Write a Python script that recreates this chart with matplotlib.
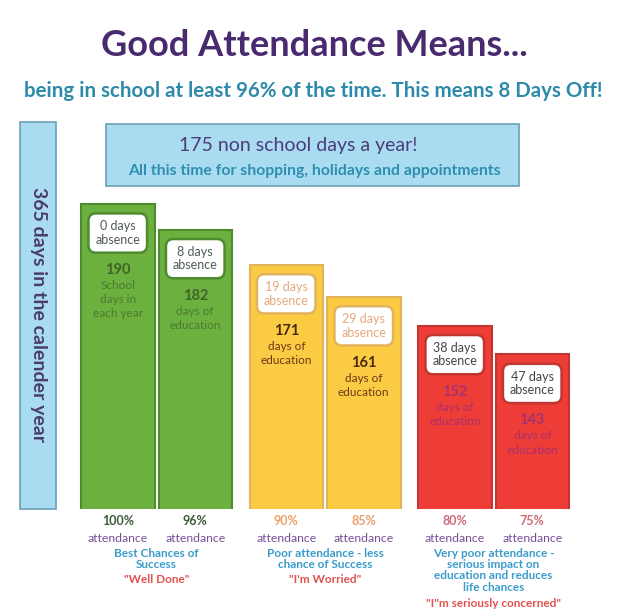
import matplotlib
matplotlib.use("Agg")
import matplotlib.pyplot as plt
from matplotlib.patches import Rectangle

plt.rcParams['font.family'] = ['Lato', 'DejaVu Sans']

# ---- data ----
school_days = [190, 182, 171, 161, 152, 143]
absence_days = [0, 8, 19, 29, 38, 47]
attendance = ["100%", "96%", "90%", "85%", "80%", "75%"]
bar_notes = ["School\ndays in\neach year", "days of\neducation", "days of\neducation",
             "days of\neducation", "days of\neducation", "days of\neducation"]
group_captions = ["Best Chances of\nSuccess", "Poor attendance - less\nchance of Success",
                  "Very poor attendance -\nserious impact on\neducation and reduces\nlife chances"]
group_quotes = ["\"Well Done\"", "\"I'm Worried\"", "\"I\"m seriously concerned\""]
calendar_days = 365
non_school_days = 175

title = "Good Attendance Means..."
subtitle = "being in school at least 96% of the time. This means 8 Days Off!"

# ---- styles ----
fills = ["#6cb03f", "#6cb03f", "#fccb44", "#fccb44", "#ee3c37", "#ee3c37"]
edges = ["#4e8a2e", "#4e8a2e", "#e2b35a", "#e2b35a", "#c23631", "#c23631"]
box_text = ["#4f5a55", "#4f5a55", "#eba77c", "#eba77c", "#444444", "#444444"]
num_col = ["#3e6628", "#3e6628", "#4a2810", "#4a2810", "#a8306e", "#a8306e"]
note_col = ["#4c7a30", "#4c7a30", "#6a3a18", "#6a3a18", "#a8306e", "#a8306e"]
pct_col = ["#3d5a3a", "#3d5a3a", "#eba06a", "#eba06a", "#cf6a78", "#d06a78"]

W, H = 624, 614
fig = plt.figure(figsize=(W / 100, H / 100), dpi=100)
fig.patch.set_facecolor("white")

# decoration overlay in pixel coordinates
deco = fig.add_axes([0, 0, 1, 1])
deco.set_xlim(0, W)
deco.set_ylim(H, 0)
deco.axis("off")

# bar axes: baseline at pixel row 509
base_px = 509
scale = 3.2  # px per day
vmin = 94.7
ax = fig.add_axes([0, (H - base_px) / H, 1, base_px / H])
ax.set_xlim(0, W)
ax.set_ylim(vmin, vmin + base_px / scale)
ax.axis("off")

x0, group_step, bar_step, bw = 117.75, 168.5, 77.5, 73.5
xs = [x0 + (i // 2) * group_step + (i % 2) * bar_step for i in range(6)]

ax.bar(xs, school_days, width=bw, color=fills, edgecolor=edges, linewidth=1.5)

for i, (x, v) in enumerate(zip(xs, school_days)):
    ax.annotate(f"{absence_days[i]} days\nabsence", xy=(x, v), xytext=(0, -29),
                textcoords="offset pixels", ha="center", va="center",
                fontsize=9, color=box_text[i], linespacing=1.15,
                bbox=dict(boxstyle="round,pad=0.55,rounding_size=0.6", fc="white",
                          ec=edges[i], lw=1.8))
    ax.annotate(str(v), xy=(x, v), xytext=(0, -66), textcoords="offset pixels",
                ha="center", va="center", fontsize=10.5, fontweight="bold", color=num_col[i])
    ax.annotate(bar_notes[i], xy=(x, v), xytext=(0, -76), textcoords="offset pixels",
                ha="center", va="top", fontsize=8.5, color=note_col[i], linespacing=1.35)
    ax.annotate(attendance[i], xy=(x, 0), xycoords=("data", "axes fraction"),
                xytext=(0, -12), textcoords="offset pixels", ha="center", va="center",
                fontsize=9, fontweight="bold", color=pct_col[i], annotation_clip=False)
    ax.annotate("attendance", xy=(x, 0), xycoords=("data", "axes fraction"),
                xytext=(0, -29), textcoords="offset pixels", ha="center", va="center",
                fontsize=8.8, color="#7a4f98", annotation_clip=False)

for g in range(3):
    gx = (xs[2 * g] + xs[2 * g + 1]) / 2
    cap = group_captions[g]
    n = cap.count("\n") + 1
    ax.annotate(cap, xy=(gx, 0), xycoords=("data", "axes fraction"),
                xytext=(0, -39), textcoords="offset pixels", ha="center", va="top",
                fontsize=8.5, fontweight="bold", color="#3a9ccb", linespacing=1.02,
                annotation_clip=False)
    ax.annotate(group_quotes[g], xy=(gx, 0), xycoords=("data", "axes fraction"),
                xytext=(0, -39 - n * 12.1 - 1.5), textcoords="offset pixels", ha="center",
                va="top", fontsize=8.5, fontweight="bold", color="#e0524f",
                annotation_clip=False)

# 365 days box
deco.add_patch(Rectangle((20, 122), 36, 387, fc="#a9dcf0", ec="#6aa0b8", lw=1.2))
deco.text(38, 315, f"{calendar_days} days in the calender year", rotation=-90,
          ha="center", va="center", fontsize=14, fontweight="bold", color="#4b3c6e")

# 175 days box
deco.add_patch(Rectangle((106, 124), 413, 62, fc="#a9dcf0", ec="#6aa0b8", lw=1.2))
deco.text(298, 145, f"{non_school_days} non school days a year!", ha="center", va="center",
          fontsize=14, color="#4b3c7a")
deco.text(314, 171, "All this time for shopping, holidays and appointments", ha="center",
          va="center", fontsize=11.3, fontweight="bold", color="#2f8fb0")

# titles
deco.text(314, 46, title, ha="center", va="center", fontsize=26, fontweight="bold",
          color="#4a2a6e")
deco.text(313, 91, subtitle, ha="center", va="center", fontsize=14.8, fontweight="bold",
          color="#2d8aa8")

fig.savefig("out.png", dpi=100, facecolor="white")
